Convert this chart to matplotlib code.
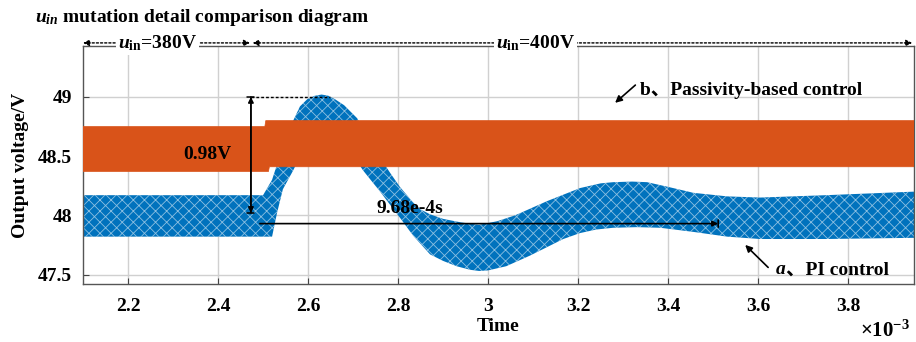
import numpy as np
import matplotlib
matplotlib.use('Agg')
import matplotlib.pyplot as plt

plt.rcParams['font.family'] = ['Liberation Serif', 'Noto Sans CJK SC']
plt.rcParams['font.weight'] = 'bold'
plt.rcParams['axes.labelweight'] = 'bold'
plt.rcParams['mathtext.fontset'] = 'custom'
plt.rcParams['mathtext.rm'] = 'Liberation Serif:bold'
plt.rcParams['mathtext.it'] = 'Liberation Serif:italic:bold'
plt.rcParams['mathtext.bf'] = 'Liberation Serif:bold'
plt.rcParams['hatch.linewidth'] = 0.6

# time in units of 1e-3 s
# b: passivity-based control, output band (upper / lower envelope)
t_pbc = [2.100, 2.504, 2.506, 2.512, 2.514, 3.946]
pbc_upper = [48.75, 48.75, 48.80, 48.80, 48.80, 48.80]
pbc_lower = [48.37, 48.37, 48.37, 48.37, 48.41, 48.41]

# a: PI control, output band (upper / lower envelope)
t_pi_up = [2.100, 2.500, 2.520, 2.544, 2.567, 2.582, 2.598, 2.615, 2.630, 2.645,
           2.660, 2.680, 2.709, 2.744, 2.782, 2.804, 2.833, 2.850, 2.870, 2.900,
           2.940, 2.980, 3.020, 3.060, 3.131, 3.204, 3.250, 3.278, 3.320, 3.353,
           3.400, 3.456, 3.531, 3.604, 3.750, 3.946]
pi_upper = [48.17, 48.17, 48.30, 48.58, 48.80, 48.92, 48.98, 49.01, 49.02, 49.01,
            48.98, 48.93, 48.82, 48.58, 48.36, 48.24, 48.11, 48.05, 48.01, 47.97,
            47.94, 47.92, 47.95, 48.00, 48.12, 48.23, 48.27, 48.28, 48.285, 48.28,
            48.24, 48.19, 48.16, 48.15, 48.17, 48.20]
t_pi_lo = [2.100, 2.520, 2.531, 2.544, 2.567, 2.598, 2.633, 2.680, 2.722, 2.760,
           2.804, 2.833, 2.871, 2.900, 2.930, 2.960, 2.980, 3.000, 3.040, 3.093,
           3.167, 3.204, 3.240, 3.278, 3.330, 3.382, 3.456, 3.531, 3.604, 3.750,
           3.946]
pi_lower = [47.82, 47.82, 48.02, 48.22, 48.38, 48.62, 48.68, 48.62, 48.38, 48.20,
            47.98, 47.83, 47.67, 47.615, 47.57, 47.54, 47.53, 47.535, 47.57, 47.66,
            47.80, 47.85, 47.88, 47.895, 47.90, 47.895, 47.86, 47.82, 47.80, 47.80,
            47.81]

xticks = [2.2, 2.4, 2.6, 2.8, 3.0, 3.2, 3.4, 3.6, 3.8]
xtick_labels = ['2.2', '2.4', '2.6', '2.8', '3', '3.2', '3.4', '3.6', '3.8']
yticks = [47.5, 48.0, 48.5, 49.0]
ytick_labels = ['47.5', '48', '48.5', '49']

blue = '#0072BD'
orange = '#D95319'

fig = plt.figure(figsize=(9.16, 3.42), dpi=100)
ax = fig.add_axes([83 / 916, 58 / 342, 831 / 916, 238 / 342])

# PI band (hatched look of the ripple)
x_pi = np.concatenate([t_pi_up, t_pi_lo[::-1]])
y_pi = np.concatenate([pi_upper, pi_lower[::-1]])
ax.fill(x_pi, y_pi, facecolor=blue, edgecolor=(1, 1, 1, 0.55), hatch='xxx',
        linewidth=0, zorder=2)

# passivity-based band on top
x_pb = np.concatenate([t_pbc, t_pbc[::-1]])
y_pb = np.concatenate([pbc_upper, pbc_lower[::-1]])
ax.fill(x_pb, y_pb, facecolor=orange, edgecolor=orange, linewidth=0.5, zorder=3)

ax.set_xlim(2.1, 3.946)
ax.set_ylim(47.42, 49.43)
ax.set_xticks(xticks)
ax.set_xticklabels(xtick_labels)
ax.set_yticks(yticks)
ax.set_yticklabels(ytick_labels)
ax.tick_params(direction='in', labelsize=14, length=4, color='#444444')
ax.tick_params(axis='x', pad=10)
ax.tick_params(axis='y', pad=8)
ax.grid(True, color='#d0d0d0', linewidth=1)
ax.set_axisbelow(True)
for s in ax.spines.values():
    s.set_color('#555555')
    s.set_linewidth(1)

ax.set_xlabel('Time', fontsize=14, labelpad=2)
ax.set_ylabel('Output voltage/V', fontsize=14, labelpad=6)
ax.text(0.965, -0.2, r'$\times10^{-3}$', transform=ax.transAxes, fontsize=15,
        ha='center', va='center')

fig.text(35 / 916, 1 - 17 / 342, r'$u_{in}$ mutation detail comparison diagram',
         fontsize=14, ha='left', va='center')

# input voltage spans above the axes
y_top = 1.013
dotted = dict(arrowstyle='<|-|>', linestyle=(0, (1.5, 1.5)), color='black',
              lw=1, mutation_scale=9, shrinkA=0, shrinkB=0)
ax.annotate('', xy=(2.100, y_top), xytext=(2.471, y_top),
            xycoords=('data', 'axes fraction'), arrowprops=dotted, annotation_clip=False)
ax.annotate('', xy=(2.4765, y_top), xytext=(3.942, y_top),
            xycoords=('data', 'axes fraction'), arrowprops=dotted, annotation_clip=False)
ax.text(2.265, y_top, r'$u_{\rm in}$=380V', transform=ax.get_xaxis_transform(),
        fontsize=14, ha='center', va='center',
        bbox=dict(facecolor='white', edgecolor='none', pad=1.5))
ax.text(3.105, y_top, r'$u_{\rm in}$=400V', transform=ax.get_xaxis_transform(),
        fontsize=14, ha='center', va='center',
        bbox=dict(facecolor='white', edgecolor='none', pad=1.5))

# 0.98V overshoot marker
x_v = 2.473
ax.annotate('', xy=(x_v, 49.0), xytext=(x_v, 48.02),
            arrowprops=dict(arrowstyle='<|-|>', color='black', lw=1.1,
                            mutation_scale=8, shrinkA=0, shrinkB=0), zorder=5)
ax.annotate('', xy=(x_v, 49.0), xytext=(x_v, 48.02),
            arrowprops=dict(arrowstyle='|-|, widthA=0.25, widthB=0.25', color='black',
                            lw=1.1, shrinkA=0, shrinkB=0), zorder=5)
ax.plot([x_v, 2.649], [49.0, 49.0], color='black', linestyle=(0, (2, 1.5)), lw=1, zorder=5)
ax.text(2.376, 48.51, '0.98V', fontsize=14, ha='center', va='center', zorder=6)

# settling time marker
ax.annotate('', xy=(2.493, 47.93), xytext=(3.511, 47.93),
            arrowprops=dict(arrowstyle='<|-', color='black', lw=1.2,
                            mutation_scale=8, shrinkA=0, shrinkB=0), zorder=5)
ax.annotate('', xy=(3.511, 47.90), xytext=(3.511, 47.96),
            arrowprops=dict(arrowstyle='-', color='black', lw=1.2,
                            shrinkA=0, shrinkB=0), zorder=5)
ax.text(2.827, 48.06, '9.68e-4s', fontsize=14, ha='center', va='center', zorder=6)

# curve labels
ax.annotate('', xy=(3.282, 48.95), xytext=(3.327, 49.10),
            arrowprops=dict(arrowstyle='-|>', color='black', lw=1.2,
                            mutation_scale=10, shrinkA=0, shrinkB=0), zorder=5)
ax.text(3.338, 49.05, 'b、Passivity-based control', fontsize=14,
        ha='left', va='center', zorder=6)
ax.annotate('', xy=(3.571, 47.75), xytext=(3.622, 47.56),
            arrowprops=dict(arrowstyle='-|>', color='black', lw=1.2,
                            mutation_scale=10, shrinkA=0, shrinkB=0), zorder=5)
ax.text(3.640, 47.54, 'a', fontsize=14, style='italic', ha='left', va='center', zorder=6)
ax.text(3.662, 47.54, '、PI control', fontsize=14, ha='left', va='center', zorder=6)

fig.savefig('out.png', dpi=100)
